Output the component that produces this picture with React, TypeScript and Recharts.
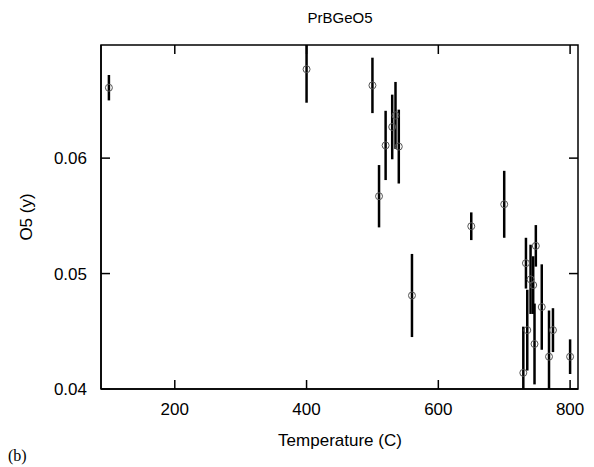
import React from 'react';
import { ScatterChart, Scatter, XAxis, YAxis, ErrorBar, ReferenceArea } from 'recharts';

const TEMPS = [100, 400, 500, 510, 520, 530, 535, 540, 560, 650, 700, 729, 735, 733, 740, 744, 748, 746, 757, 768, 774, 800];
const O5 = [0.0661, 0.0677, 0.0663, 0.0567, 0.0611, 0.0627, 0.0637, 0.061, 0.0481, 0.0541, 0.056, 0.0414, 0.0451, 0.0509, 0.0495, 0.049, 0.0524, 0.0439, 0.0471, 0.0428, 0.0451, 0.0428];
const O5_ERR = [0.0011, 0.0029, 0.0024, 0.0027, 0.003, 0.0028, 0.0029, 0.0032, 0.0036, 0.0012, 0.0029, 0.004, 0.0035, 0.0022, 0.003, 0.0025, 0.0018, 0.0035, 0.0037, 0.004, 0.0019, 0.0015];
const X_TICKS = [200, 400, 600, 800];
const Y_TICKS = [0.04, 0.05, 0.06];
const Y_TICK_LABELS = ['0.04', '0.05', '0.06'];
const X_DOMAIN: [number, number] = [88, 812];
const Y_DOMAIN: [number, number] = [0.04, 0.0698];

const data = TEMPS.map((t, i) => ({
  x: t,
  y: O5[i],
  err: [Math.min(O5_ERR[i], O5[i] - Y_DOMAIN[0]), Math.min(O5_ERR[i], Y_DOMAIN[1] - O5[i])],
}));

const FONT = '"Liberation Sans", Arial, Helvetica, sans-serif';
const TICK_LEN = 9;
const X_MARGIN = 14;
const Y_MARGIN = 14;

const BottomTick = (props: any) => {
  const { x, y, payload } = props;
  const axisY = y - X_MARGIN;
  return (
    <g>
      <path d={`M${x},${axisY}V${axisY - TICK_LEN}`} stroke="#000" strokeWidth={1.5} fill="none" />
      <path d={`M${x},45V${45 + TICK_LEN}`} stroke="#000" strokeWidth={1.5} fill="none" />
      <text x={x} y={y} dy="0.71em" textAnchor="middle" fontFamily={FONT} fontSize={17} fill="#000" stroke="none">
        {payload.value}
      </text>
    </g>
  );
};

const LeftTick = (props: any) => {
  const { x, y, payload } = props;
  const axisX = x + Y_MARGIN;
  const label = Y_TICK_LABELS[Y_TICKS.indexOf(payload.value)] ?? String(payload.value);
  return (
    <g>
      <path d={`M${axisX},${y}H${axisX + TICK_LEN}`} stroke="#000" strokeWidth={1.5} fill="none" />
      <path d={`M578,${y}H${578 - TICK_LEN}`} stroke="#000" strokeWidth={1.5} fill="none" />
      <text x={x} y={y} dy="0.355em" textAnchor="end" fontFamily={FONT} fontSize={17} fill="#000" stroke="none">
        {label}
      </text>
    </g>
  );
};

const Marker = (props: any) => {
  const { cx, cy } = props;
  return <circle cx={cx} cy={cy} r={3.5} fill="none" stroke="#555" strokeWidth={1} />;
};

export default function App() {
  return (
    <div style={{ position: 'absolute', left: 0, top: 0, width: 594, height: 467, background: '#fff' }}>
      <ScatterChart width={594} height={467} margin={{ top: 45, right: 16, bottom: 48, left: 41 }}>
        <XAxis
          type="number"
          dataKey="x"
          domain={X_DOMAIN}
          ticks={X_TICKS}
          interval={0}
          orientation="bottom"
          height={30}
          tickSize={0}
          tickMargin={X_MARGIN}
          tickLine={false}
          tick={<BottomTick />}
          axisLine={{ stroke: '#000', strokeWidth: 1.5 }}
          allowDataOverflow
        />
        <YAxis
          type="number"
          dataKey="y"
          domain={Y_DOMAIN}
          ticks={Y_TICKS}
          interval={0}
          orientation="left"
          width={60}
          tickSize={0}
          tickMargin={Y_MARGIN}
          tickLine={false}
          tick={<LeftTick />}
          axisLine={{ stroke: '#000', strokeWidth: 1.5 }}
          allowDataOverflow
        />
        <ReferenceArea
          x1={X_DOMAIN[0]}
          x2={X_DOMAIN[1]}
          y1={Y_DOMAIN[0]}
          y2={Y_DOMAIN[1]}
          fill="none"
          fillOpacity={0}
          stroke="#000"
          strokeWidth={1.5}
          ifOverflow="visible"
        />
        <Scatter data={data} dataKey="y" shape={<Marker />} isAnimationActive={false}>
          <ErrorBar dataKey="err" direction="y" width={0} stroke="#000" strokeWidth={2.5} isAnimationActive={false} />
        </Scatter>
      </ScatterChart>
      <div style={{ position: 'absolute', left: 340, top: 9, transform: 'translateX(-50%)', fontFamily: FONT, fontSize: 15, whiteSpace: 'nowrap', color: '#000' }}>
        PrBGeO5
      </div>
      <div style={{ position: 'absolute', left: 340, top: 431, transform: 'translateX(-50%)', fontFamily: FONT, fontSize: 17, whiteSpace: 'nowrap', color: '#000' }}>
        Temperature (C)
      </div>
      <div style={{ position: 'absolute', left: 27, top: 217, transform: 'translate(-50%, -50%) rotate(-90deg)', fontFamily: FONT, fontSize: 17, whiteSpace: 'nowrap', color: '#000' }}>
        O5 (y)
      </div>
      <div style={{ position: 'absolute', left: 8, top: 447, fontFamily: '"Liberation Serif", "Times New Roman", serif', fontSize: 16, whiteSpace: 'nowrap', color: '#000' }}>
        (b)
      </div>
    </div>
  );
}
